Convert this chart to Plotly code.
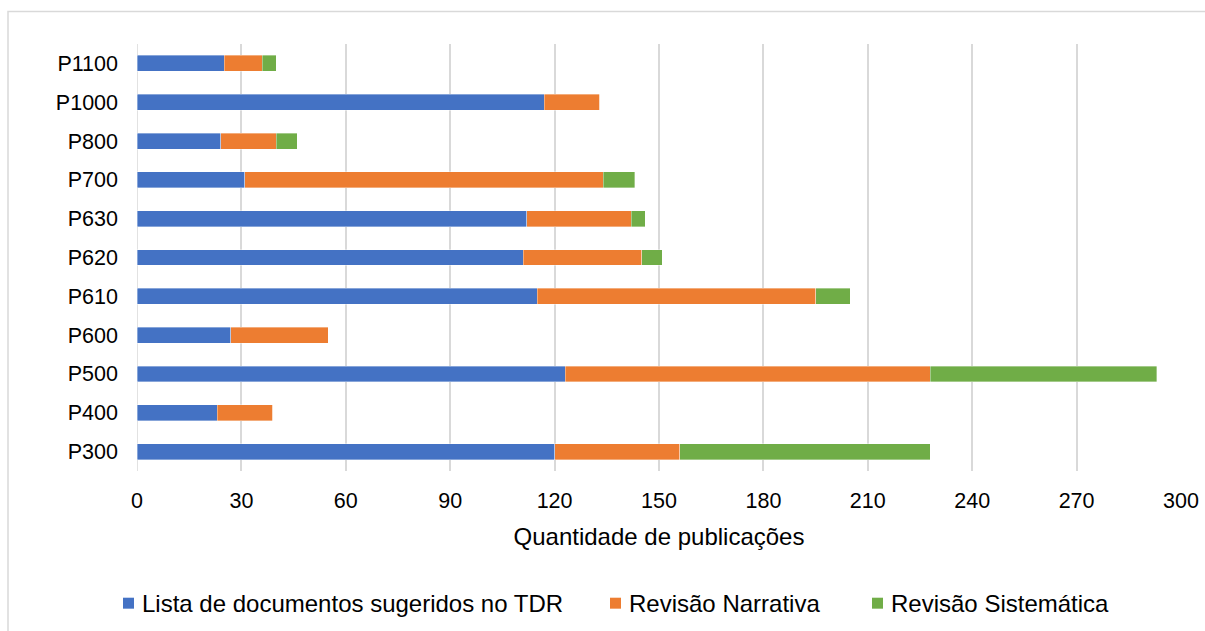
import plotly.graph_objects as go

# Categories listed bottom-to-top
categorias = ["P300", "P400", "P500", "P600", "P610", "P620", "P630", "P700", "P800", "P1000", "P1100"]
lista_tdr = [120, 23, 123, 27, 115, 111, 112, 31, 24, 117, 25]
revisao_narrativa = [36, 16, 105, 28, 80, 34, 30, 103, 16, 16, 11]
revisao_sistematica = [72, 0, 65, 0, 10, 6, 4, 9, 6, 0, 4]
x_ticks = [0, 30, 60, 90, 120, 150, 180, 210, 240, 270, 300]

nomes = ["Lista de documentos sugeridos no TDR", "Revisão Narrativa", "Revisão Sistemática"]
cores = ["#4472C4", "#ED7D31", "#70AD47"]
valores = [lista_tdr, revisao_narrativa, revisao_sistematica]

# Plot-area geometry in pixels
W, H = 1205, 631
L, R, T, B = 137, 24, 43.5, 159.5
PW, PH = W - L - R, H - T - B


def px_x(px):
    return (px - L) / PW


def px_y(py):
    return (H - B - py) / PH


FONT = "Liberation Sans, Arial, sans-serif"

fig = go.Figure()
for nome, vals, cor in zip(nomes, valores, cores):
    fig.add_trace(go.Bar(
        y=categorias, x=vals, name=nome, orientation="h", showlegend=False,
        marker=dict(color=cor, line=dict(color="rgba(255,255,255,0.6)", width=0.6)),
    ))

# Legend row: colour square followed by the series name
legend_pos = [(123, 140), (610, 627), (872, 889)]
shapes = []
annotations = []
for (sq_x, tx_x), nome, cor in zip(legend_pos, nomes, cores):
    shapes.append(dict(type="rect", xref="paper", yref="paper",
                       x0=px_x(sq_x), x1=px_x(sq_x + 11),
                       y0=px_y(609.5), y1=px_y(598.5),
                       fillcolor=cor, line=dict(width=0)))
    annotations.append(dict(text=nome, xref="paper", yref="paper",
                            x=px_x(tx_x), y=px_y(604), xanchor="left", yanchor="middle",
                            showarrow=False,
                            font=dict(family=FONT, size=24, color="#000000")))

# zero line drawn in the gridline style
shapes.append(dict(type="line", xref="x", yref="paper", x0=0, x1=0, y0=0, y1=1,
                   line=dict(color="#D9D9D9", width=1.5), layer="below"))
# outer chart frame
shapes.append(dict(type="rect", xref="paper", yref="paper",
                   x0=px_x(8), x1=px_x(1215), y0=px_y(645), y1=px_y(11),
                   line=dict(color="#D9D9D9", width=1.5), layer="below"))

fig.update_layout(
    barmode="stack",
    bargap=0.59,
    width=W, height=H,
    margin=dict(l=L, r=R, t=T, b=B, autoexpand=False),
    paper_bgcolor="white", plot_bgcolor="white",
    font=dict(family=FONT, size=21, color="#000000"),
    showlegend=False,
    xaxis=dict(
        range=[0, 300], tickvals=x_ticks, showgrid=True, gridcolor="#D9D9D9",
        gridwidth=1.5, zeroline=False, showline=False, ticks="",
        automargin=False, ticklabelstandoff=14,
        title=dict(text="Quantidade de publicações", standoff=16,
                   font=dict(family=FONT, size=24, color="#000000")),
        tickfont=dict(family=FONT, size=21.5, color="#000000"),
    ),
    yaxis=dict(
        categoryorder="array", categoryarray=categorias,
        showgrid=False, zeroline=False, showline=False, ticks="",
        automargin=False, ticklabelstandoff=18,
        tickfont=dict(family=FONT, size=21.5, color="#000000"),
    ),
    shapes=shapes,
    annotations=annotations,
)

fig.write_html("out.html")
